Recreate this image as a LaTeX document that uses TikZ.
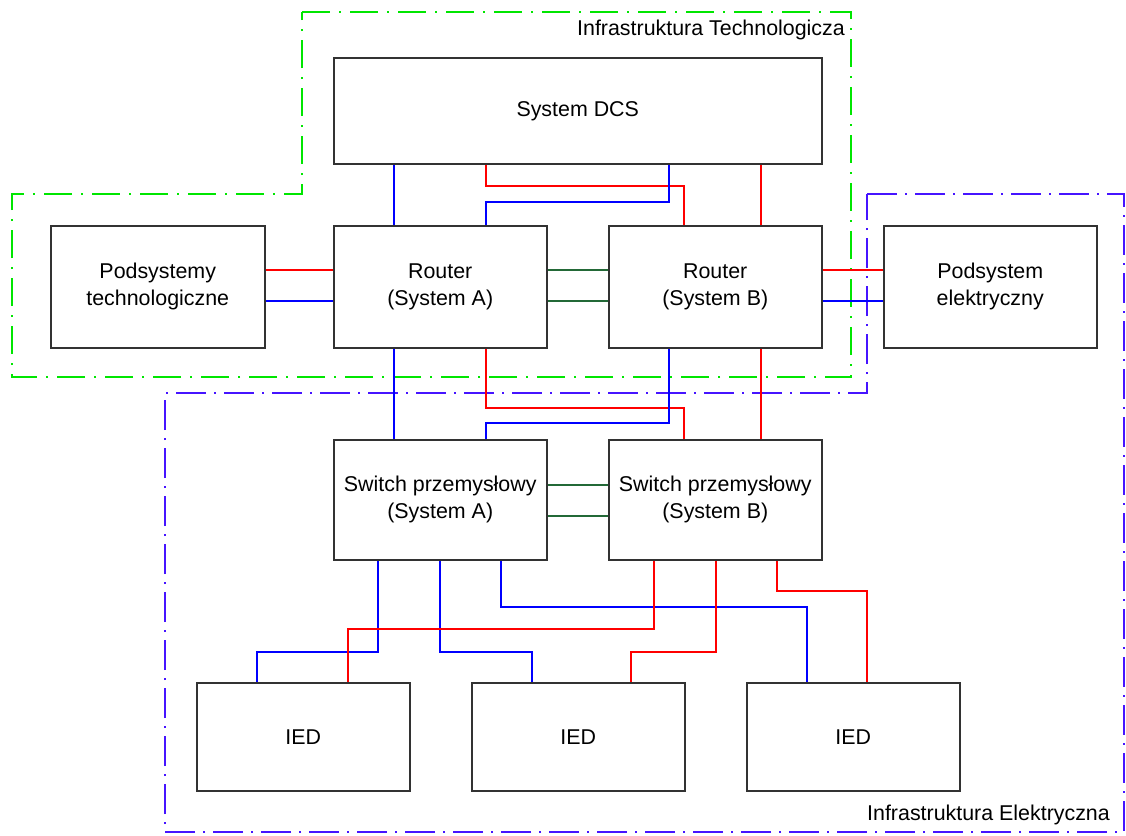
\documentclass[tikz,border=0pt]{standalone}
\usepackage{fontspec}
\setmainfont{Liberation Sans}
\definecolor{boxline}{RGB}{50,50,50}
\definecolor{wirered}{RGB}{255,0,0}
\definecolor{wireblue}{RGB}{0,0,255}
\definecolor{wiregreen}{RGB}{35,105,55}
\definecolor{zonegreen}{RGB}{0,230,0}
\definecolor{zoneblue}{RGB}{70,20,255}
\begin{document}
\begin{tikzpicture}[x=1pt,y=-1pt,
  box/.style={draw=boxline, line width=1.5pt, fill=white, align=center,
    anchor=north west, inner sep=0pt, minimum width=213pt, minimum height=122pt,
    font=\fontsize{21.4}{27}\selectfont},
  iedbox/.style={box, minimum height=108pt},
  wred/.style={draw=wirered, line width=2pt},
  wblue/.style={draw=wireblue, line width=2pt},
  wgreen/.style={draw=wiregreen, line width=2pt},
  techzone/.style={draw=zonegreen, line width=2pt,
    dash pattern=on 28pt off 9pt on 2pt off 9pt},
  eleczone/.style={draw=zoneblue, line width=2pt,
    dash pattern=on 30pt off 8pt on 2pt off 8pt},
  zonelabel/.style={anchor=east, inner sep=0pt, font=\fontsize{21.4}{24}\selectfont}]

\useasboundingbox (0,0) rectangle (1126,835);

% infrastructure zones
\draw[techzone] (302,12) -- (851,12) -- (851,377) -- (12,377) -- (12,194) -- (302,194) -- cycle;
\draw[eleczone] (867,194) -- (1124,194) -- (1124,832) -- (165,832) -- (165,393) -- (867,393) -- cycle;
\node[zonelabel] (ztech) at (845,30) {Infrastruktura Technologicza};
\node[zonelabel] (zelec) at (1110,815) {Infrastruktura Elektryczna};

% devices
\node[box, minimum width=488pt, minimum height=106pt] (dcs) at (333,57) {System DCS};
\node[box, minimum width=214pt] (pt) at (50,225) {Podsystemy\\technologiczne};
\node[box] (ra) at (333,225) {Router\\(System A)};
\node[box] (rb) at (608,225) {Router\\(System B)};
\node[box] (pe) at (883,225) {Podsystem\\elektryczny};
\node[box, minimum height=120pt] (sa) at (333,439) {Switch przemysłowy\\(System A)};
\node[box, minimum height=120pt] (sb) at (608,439) {Switch przemysłowy\\(System B)};
\node[iedbox] (ied1) at (196,682) {IED};
\node[iedbox] (ied2) at (471,682) {IED};
\node[iedbox] (ied3) at (746,682) {IED};

% wire columns
\coordinate (cA1) at (394,0);
\coordinate (cA2) at (486,0);
\coordinate (cB1) at (669,0);
\coordinate (cB2) at (684,0);
\coordinate (cB3) at (761,0);
\coordinate (s1) at (378,0);
\coordinate (s2) at (440,0);
\coordinate (s3) at (501,0);
\coordinate (s4) at (654,0);
\coordinate (s5) at (716,0);
\coordinate (s6) at (777,0);
\coordinate (i1b) at (257,0);
\coordinate (i1r) at (348,0);
\coordinate (i2b) at (532,0);
\coordinate (i2r) at (631,0);
\coordinate (i3b) at (807,0);
\coordinate (i3r) at (867,0);
% wire rows
\coordinate (rR) at (0,270);
\coordinate (rB) at (0,301);
\coordinate (rS1) at (0,485);
\coordinate (rS2) at (0,516);
\coordinate (tRed) at (0,186);
\coordinate (tBlue) at (0,202);
\coordinate (mRed) at (0,408);
\coordinate (mBlue) at (0,423);
\coordinate (lR3) at (0,591);
\coordinate (lB3) at (0,607);
\coordinate (lR1) at (0,629);
\coordinate (lL) at (0,652);

% DCS to routers
\draw[wblue] (dcs.south -| cA1) -- (ra.north -| cA1);
\draw[wred] (dcs.south -| cA2) |- (tRed -| cB2) -- (rb.north -| cB2);
\draw[wblue] (dcs.south -| cB1) |- (tBlue -| cA2) -- (ra.north -| cA2);
\draw[wred] (dcs.south -| cB3) -- (rb.north -| cB3);

% side subsystems and router interlinks
\draw[wred] (pt.east |- rR) -- (ra.west |- rR);
\draw[wblue] (pt.east |- rB) -- (ra.west |- rB);
\draw[wgreen] (ra.east |- rR) -- (rb.west |- rR);
\draw[wgreen] (ra.east |- rB) -- (rb.west |- rB);
\draw[wred] (rb.east |- rR) -- (pe.west |- rR);
\draw[wblue] (rb.east |- rB) -- (pe.west |- rB);

% routers to switches
\draw[wblue] (ra.south -| cA1) -- (sa.north -| cA1);
\draw[wred] (ra.south -| cA2) |- (mRed -| cB2) -- (sb.north -| cB2);
\draw[wblue] (rb.south -| cB1) |- (mBlue -| cA2) -- (sa.north -| cA2);
\draw[wred] (rb.south -| cB3) -- (sb.north -| cB3);

% switch interlinks
\draw[wgreen] (sa.east |- rS1) -- (sb.west |- rS1);
\draw[wgreen] (sa.east |- rS2) -- (sb.west |- rS2);

% switches to IEDs
\draw[wblue] (sa.south -| s1) |- (lL -| i1b) -- (ied1.north -| i1b);
\draw[wblue] (sa.south -| s2) |- (lL -| i2b) -- (ied2.north -| i2b);
\draw[wblue] (sa.south -| s3) |- (lB3 -| i3b) -- (ied3.north -| i3b);
\draw[wred] (sb.south -| s4) |- (lR1 -| i1r) -- (ied1.north -| i1r);
\draw[wred] (sb.south -| s5) |- (lL -| i2r) -- (ied2.north -| i2r);
\draw[wred] (sb.south -| s6) |- (lR3 -| i3r) -- (ied3.north -| i3r);

\end{tikzpicture}
\end{document}
